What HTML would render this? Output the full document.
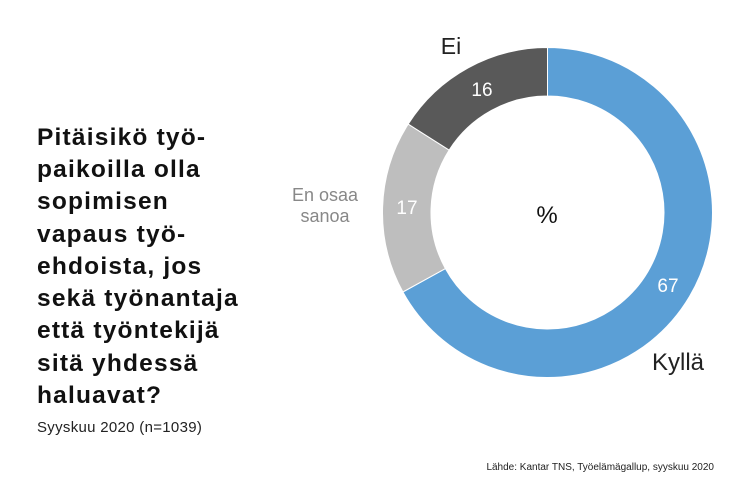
<!DOCTYPE html>
<html><head><meta charset="utf-8"><style>
html,body{margin:0;padding:0;background:#fff;}
svg{display:block;}
text{font-family:"Liberation Sans",sans-serif;}
</style></head><body>
<svg width="750" height="500" viewBox="0 0 750 500" xmlns="http://www.w3.org/2000/svg">
<rect width="750" height="500" fill="#fff"/>
<g font-weight="bold" font-size="24.5" fill="#111" letter-spacing="1.2">
<text x="37" y="145">Pitäisikö työ-</text>
<text x="37" y="177">paikoilla olla</text>
<text x="37" y="209">sopimisen</text>
<text x="37" y="242">vapaus työ-</text>
<text x="37" y="274">ehdoista, jos</text>
<text x="37" y="306">sekä työnantaja</text>
<text x="37" y="338">että työntekijä</text>
<text x="37" y="371">sitä yhdessä</text>
<text x="37" y="403">haluavat?</text>
</g>
<text x="37" y="432" font-size="15" fill="#222" letter-spacing="0.3">Syyskuu 2020 (n=1039)</text>
<text x="714" y="470" font-size="10" fill="#222" text-anchor="end">Lähde: Kantar TNS, Työelämägallup, syyskuu 2020</text>
<g stroke="#fff" stroke-width="1">
<path d="M547.5 47.5 A165 165 0 1 1 402.9 292 L445.4 268.6 A116.5 116.5 0 1 0 547.5 96 Z" fill="#5b9fd6"/>
<path d="M402.9 292 A165 165 0 0 1 408.2 124.1 L449.1 150.1 A116.5 116.5 0 0 0 445.4 268.6 Z" fill="#bebebe"/>
<path d="M408.2 124.1 A165 165 0 0 1 547.5 47.5 L547.5 96 A116.5 116.5 0 0 0 449.1 150.1 Z" fill="#595959"/>
</g>
<g font-size="19" fill="#fff" text-anchor="middle">
<text x="482" y="96">16</text>
<text x="407" y="214">17</text>
<text x="668" y="292">67</text>
</g>
<text x="547" y="223" font-size="24" fill="#111" text-anchor="middle">%</text>
<text x="451" y="54" font-size="23" fill="#222" text-anchor="middle">Ei</text>
<text x="652" y="370" font-size="24" fill="#222">Kyllä</text>
<text x="325" y="201" font-size="18" fill="#888" text-anchor="middle">En osaa</text>
<text x="325" y="222" font-size="18" fill="#888" text-anchor="middle">sanoa</text>
</svg>
</body></html>
